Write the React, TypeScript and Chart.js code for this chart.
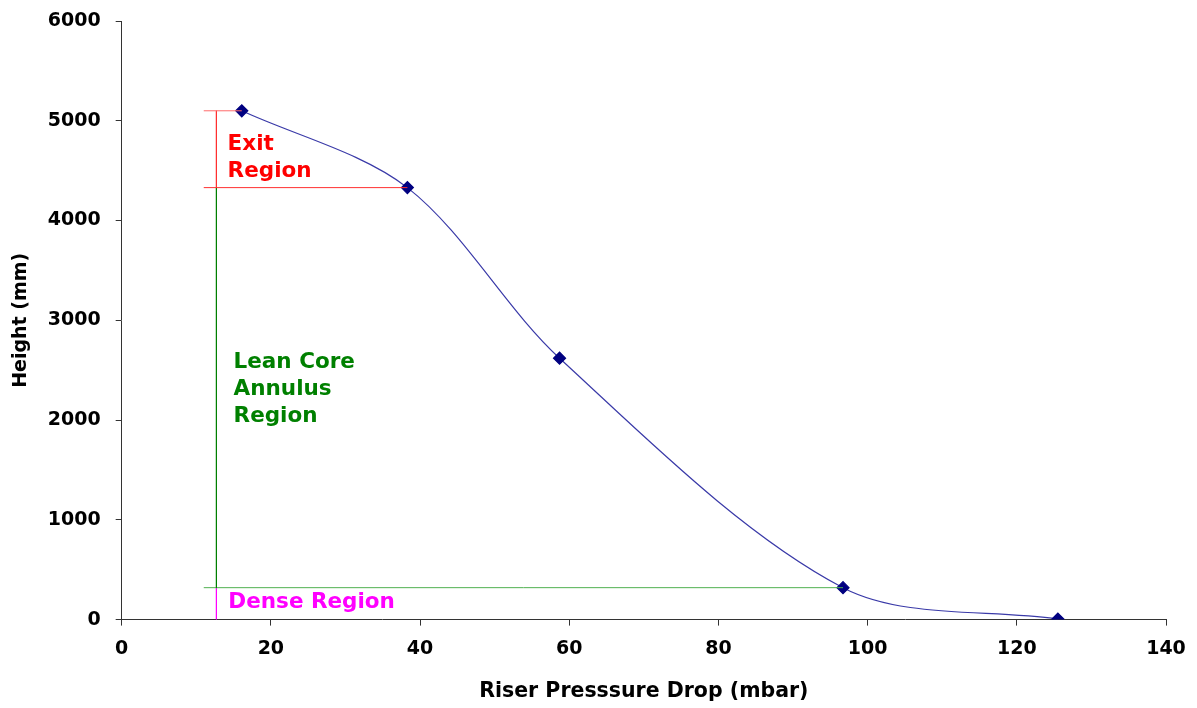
import React, { useEffect, useRef } from "react";
import { Chart, registerables } from "chart.js";

Chart.register(...registerables);

// Measured riser profile
const pressureDrop = [16.1, 38.3, 58.7, 96.7, 125.5];
const heightMm = [5100, 4330, 2620, 320, 5];

// Region boundaries (heights in mm)
const exitTop = 5100;
const exitBottom = 4330;
const denseTop = 320;
const regionAxisX = 12.7;
const bracketStartX = 11;

// Region labels: text lines, anchor x, first-line y, line step (data units)
const regionLabels = [
  { lines: ["Exit", "Region"], x: 14.2, y: 4760, step: 271, color: "#ff0000" },
  { lines: ["Lean Core", "Annulus", "Region"], x: 15.0, y: 2580, step: 271, color: "#008000" },
  { lines: ["Dense Region"], x: 14.3, y: 171, step: 0, color: "#ff00ff" },
];

const FONT = "'DejaVu Sans', Verdana, sans-serif";

const regionTextPlugin = {
  id: "regionText",
  afterDatasetsDraw(chart: any) {
    const { ctx, scales } = chart;
    ctx.save();
    ctx.font = `bold 21.5px ${FONT}`;
    ctx.textAlign = "left";
    ctx.textBaseline = "middle";
    regionLabels.forEach((lab) => {
      ctx.fillStyle = lab.color;
      lab.lines.forEach((line, i) => {
        ctx.fillText(
          line,
          scales.x.getPixelForValue(lab.x),
          scales.y.getPixelForValue(lab.y - i * lab.step)
        );
      });
    });
    ctx.restore();
  },
};

function seg(x1: number, y1: number, x2: number, y2: number, color: string) {
  return {
    type: "line" as const,
    data: [
      { x: x1, y: y1 },
      { x: x2, y: y2 },
    ],
    borderColor: color,
    borderWidth: 1,
    pointRadius: 0,
    tension: 0,
    fill: false,
  };
}

const tickFont = { family: FONT, size: 19, weight: "bold" as const };

export default function App() {
  const ref = useRef<HTMLCanvasElement>(null);

  useEffect(() => {
    document.body.style.margin = "0";
    const points = pressureDrop.map((x, i) => ({ x, y: heightMm[i] }));
    const chart = new Chart(ref.current!, {
      type: "scatter",
      data: {
        datasets: [
          seg(bracketStartX, exitTop, pressureDrop[0], exitTop, "#ff6a6a"),
          seg(bracketStartX, exitBottom, pressureDrop[1], exitBottom, "#ff3030"),
          seg(regionAxisX, exitTop, regionAxisX, exitBottom, "#ff3030"),
          seg(regionAxisX, exitBottom, regionAxisX, denseTop, "#008000"),
          seg(bracketStartX, denseTop, pressureDrop[3], denseTop, "#4fb04f"),
          seg(regionAxisX, denseTop, regionAxisX, 0, "#ff00ff"),
          {
            type: "line" as const,
            data: points,
            borderColor: "#3a3aa8",
            borderWidth: 1.2,
            tension: 0.32,
            pointStyle: "rectRot",
            pointRadius: 6,
            pointBackgroundColor: "#000080",
            pointBorderColor: "#000080",
            fill: false,
          },
        ],
      },
      options: {
        animation: false,
        responsive: false,
        maintainAspectRatio: false,
        layout: { padding: { top: 21, right: 31, left: 6, bottom: 0 } },
        plugins: { legend: { display: false }, tooltip: { enabled: false } },
        scales: {
          x: {
            type: "linear",
            min: 0,
            max: 140,
            afterFit: (s: any) => {
              s.paddingLeft = 0;
              s.paddingRight = 0;
            },
            ticks: { stepSize: 20, color: "#000", font: tickFont, padding: 12, callback: (v: any) => String(v) },
            grid: { drawOnChartArea: false, drawTicks: true, tickLength: 6, color: "#333" },
            border: { color: "#333", width: 1 },
            title: {
              display: true,
              text: "Riser Presssure Drop (mbar)",
              color: "#000",
              font: { family: FONT, size: 20.5, weight: "bold" },
              padding: { top: 7 },
            },
          },
          y: {
            type: "linear",
            min: 0,
            max: 6000,
            afterFit: (s: any) => {
              s.paddingTop = 0;
              s.paddingBottom = 0;
            },
            ticks: { stepSize: 1000, color: "#000", font: tickFont, padding: 15, callback: (v: any) => String(v) },
            grid: { drawOnChartArea: false, drawTicks: true, tickLength: 6, color: "#333" },
            border: { color: "#333", width: 1 },
            title: {
              display: true,
              text: "Height (mm)",
              color: "#000",
              font: tickFont,
              padding: { bottom: 0 },
            },
          },
        },
      },
      plugins: [regionTextPlugin],
    });
    return () => chart.destroy();
  }, []);

  return (
    <div style={{ width: 1197, height: 708 }}>
      <canvas ref={ref} width={1197} height={708} style={{ display: "block" }} />
    </div>
  );
}
